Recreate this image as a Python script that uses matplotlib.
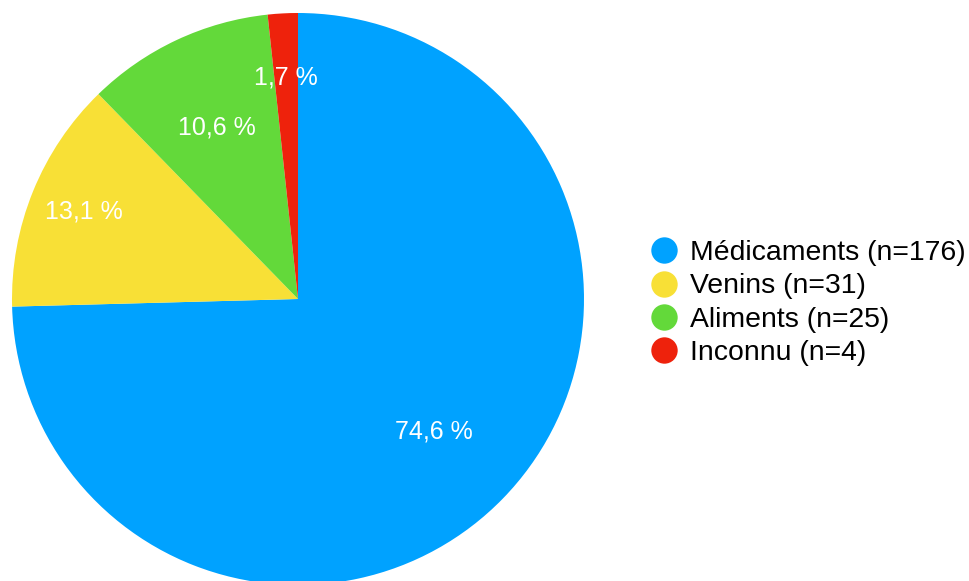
import numpy as np
import matplotlib
matplotlib.use("Agg")
import matplotlib.pyplot as plt
from matplotlib.lines import Line2D

plt.rcParams['font.family'] = ['Liberation Sans', 'DejaVu Sans']

# données
categories = ["Médicaments", "Venins", "Aliments", "Inconnu"]
counts = [176, 31, 25, 4]
pct_labels = ["74,6 %", "13,1 %", "10,6 %", "1,7 %"]
colors = ["#00a2ff", "#f8e036", "#63d93a", "#ee220c"]
# position radiale des étiquettes (fraction du rayon)
label_r = [0.665, 0.808, 0.663, 0.775]

fig = plt.figure(figsize=(9.69, 5.81), dpi=100)
ax = fig.add_axes([12 / 969, -4 / 581, 572 / 969, 572 / 581])

wedges, _ = ax.pie(counts, colors=colors, startangle=90, counterclock=False,
                   radius=1, wedgeprops=dict(linewidth=0))
ax.set_xlim(-1, 1)
ax.set_ylim(-1, 1)
ax.set_aspect('equal')
ax.axis('off')

# étiquettes en pourcentage
for w, lab, r in zip(wedges, pct_labels, label_r):
    ang = np.deg2rad((w.theta1 + w.theta2) / 2)
    ax.text(r * np.cos(ang), r * np.sin(ang), lab, color='white',
            fontsize=18, ha='center', va='center')

# légende
handles = [Line2D([], [], marker='o', linestyle='none', markersize=19,
                  markerfacecolor=c, markeredgewidth=0) for c in colors]
labels = [f"{c} (n={n})" for c, n in zip(categories, counts)]
fig.legend(handles, labels, loc='center left', bbox_to_anchor=(650 / 969, 0.4785),
           frameon=False, fontsize=20.4, handlelength=1.0, handletextpad=0.4,
           labelspacing=0.25, borderpad=0, borderaxespad=0)

fig.savefig("out.png", dpi=100)
